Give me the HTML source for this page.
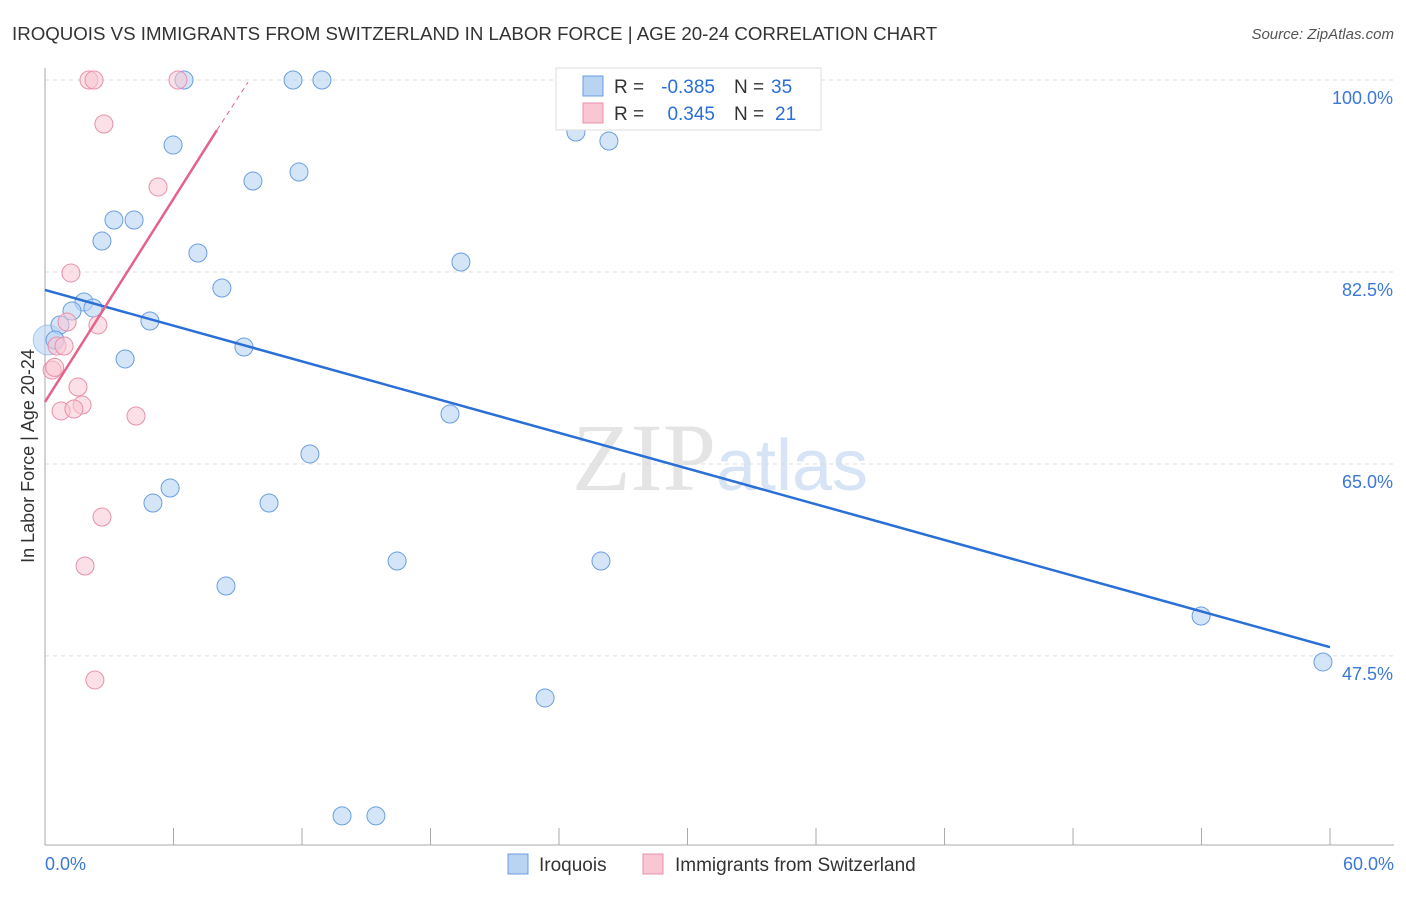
<!DOCTYPE html>
<html><head><meta charset="utf-8"><style>
body{margin:0;background:#fff;font-family:"Liberation Sans",sans-serif}
</style></head><body>
<svg id="c" width="1406" height="892" xmlns="http://www.w3.org/2000/svg">
<text x="12" y="40" font-size="18.7" fill="#333">IROQUOIS VS IMMIGRANTS FROM SWITZERLAND IN LABOR FORCE | AGE 20-24 CORRELATION CHART</text>
<text x="1394" y="39" font-size="15" fill="#555" font-style="italic" text-anchor="end">Source: ZipAtlas.com</text>
<text x="720" y="490" font-size="96" fill="#e4e4e4" text-anchor="middle" font-family="Liberation Serif">ZIP<tspan fill="#d6e4f5" font-family="Liberation Sans" font-size="72">atlas</tspan></text>
<text transform="translate(34,456) rotate(-90)" font-size="18" fill="#333" text-anchor="middle">In Labor Force | Age 20-24</text>
<g id="grid"></g><g id="axes"></g><g id="pts"></g><g id="trend"></g>
<g>
<rect x="556" y="68" width="265" height="62" fill="#fff" stroke="#ddd"/>
<rect x="583" y="76" width="20" height="20" fill="#b9d3f3" stroke="#6a9ee0"/>
<rect x="583" y="103" width="20" height="20" fill="#f9c6d4" stroke="#e890aa"/>
<text x="614" y="93" font-size="19" fill="#333">R =</text>
<text x="715" y="93" font-size="19" fill="#2a6fd6" text-anchor="end">-0.385</text>
<text x="734" y="93" font-size="19" fill="#333">N =</text>
<text x="771" y="93" font-size="19" fill="#2a6fd6">35</text>
<text x="614" y="120" font-size="19" fill="#333">R =</text>
<text x="715" y="120" font-size="19" fill="#2a6fd6" text-anchor="end">0.345</text>
<text x="734" y="120" font-size="19" fill="#333">N =</text>
<text x="775" y="120" font-size="19" fill="#2a6fd6">21</text>
</g>
<g>
<rect x="508" y="854" width="20" height="20" fill="#b9d3f3" stroke="#6a9ee0"/>
<text x="539" y="871" font-size="19" fill="#333">Iroquois</text>
<rect x="643" y="854" width="20" height="20" fill="#f9c6d4" stroke="#e890aa"/>
<text x="675" y="871" font-size="19" fill="#333">Immigrants from Switzerland</text>
</g>
</svg>
<script>
const yTicks=[100,82.5,65,47.5];
const yTickLabels=["100.0%","82.5%","65.0%","47.5%"];
const xTickLabels=["0.0%","60.0%"];
const blueX=[6.49,11.58,12.93,24.79,26.33,5.98,9.71,11.86,3.22,4.16,2.66,7.14,19.42,8.26,1.82,1.26,2.24,0.70,4.90,0.47,9.29,3.74,18.91,12.37,5.84,5.04,10.46,16.44,25.96,8.45,53.98,59.67,23.35,13.87,15.45];
const blueY=[100,100,100,95.26,94.44,94.07,90.79,91.61,87.24,87.24,85.32,84.23,83.41,81.04,79.76,78.94,79.22,77.67,78.03,76.30,75.66,74.57,69.55,65.91,62.81,61.44,61.44,56.15,56.15,53.87,51.14,46.95,43.67,32.92,32.92];
const pinkX=[2.05,2.29,6.21,2.75,5.28,1.21,1.03,2.47,0.56,0.89,0.33,0.45,1.54,1.73,0.75,1.35,4.25,2.66,1.87,2.33];
const pinkY=[100,100,100,95.99,90.25,82.41,77.94,77.67,75.75,75.75,73.56,73.8,72.01,70.37,69.83,70.01,69.37,60.16,55.70,45.31];
const blueTrend=[[0,80.86],[60,48.3]];
const pinkTrend=[[0,70.65],[8.03,95.44],[9.48,99.8]];
const X=v=>45+v*21.417, Y=v=>80+(100-v)*10.97;
const NS="http://www.w3.org/2000/svg";
function mk(t,a,p){const e=document.createElementNS(NS,t);for(const k in a)e.setAttribute(k,a[k]);document.getElementById(p).appendChild(e);return e;}
yTicks.forEach((t,i)=>{
 const l=mk('line',{x1:45,x2:1394,y1:Y(t),y2:Y(t),stroke:'#ddd','stroke-dasharray':'4,4'},'grid');
 
 
 const tx=mk('text',{x:1393,y:Y(t)+24,'font-size':18,fill:'#3a78d8','text-anchor':'end'},'grid');
 tx.textContent=yTickLabels[i];
 
 
});
let a=mk('line',{x1:45,x2:45,y1:68,y2:845,stroke:'#aaa'},'axes');


a=mk('line',{x1:45,x2:1394,y1:845,y2:845,stroke:'#aaa'},'axes');


for(let i=0;i<=10;i++){const t=mk('line',{x1:X(i*6),x2:X(i*6),y1:828,y2:845,stroke:'#aaa'},'axes');
 
 }
[[0,45,'start'],[60,1394,'end']].forEach((d,i)=>{const t=mk('text',{x:d[1],y:870,'font-size':18,fill:'#3a78d8','text-anchor':d[2]},'axes');t.textContent=xTickLabels[i];
 
 });
let big=mk('circle',{cx:X(0.15),cy:Y(76.3),r:15,fill:'rgba(185,211,243,0.6)',stroke:'rgba(106,158,224,0.5)'},'pts');


blueX.forEach((x,i)=>{const c=mk('circle',{cx:X(x),cy:Y(blueY[i]),r:9,fill:'rgba(185,211,243,0.6)',stroke:'#6a9ee0','stroke-width':1},'pts');
 
 });
pinkX.forEach((x,i)=>{const c=mk('circle',{cx:X(x),cy:Y(pinkY[i]),r:9,fill:'rgba(249,198,212,0.55)',stroke:'#e890aa','stroke-width':1},'pts');
 
 });
let b=mk('line',{x1:X(blueTrend[0][0]),y1:Y(blueTrend[0][1]),x2:X(blueTrend[1][0]),y2:Y(blueTrend[1][1]),stroke:'#2a6fd6','stroke-width':2.5},'trend');


let p=mk('line',{x1:X(pinkTrend[0][0]),y1:Y(pinkTrend[0][1]),x2:X(pinkTrend[1][0]),y2:Y(pinkTrend[1][1]),stroke:'#e5628a','stroke-width':2.5},'trend');


let pd=mk('line',{x1:X(pinkTrend[1][0]),y1:Y(pinkTrend[1][1]),x2:X(pinkTrend[2][0]),y2:Y(pinkTrend[2][1]),stroke:'#e5628a','stroke-width':1,'stroke-dasharray':'5,4'},'trend');


</script>
</body></html>
